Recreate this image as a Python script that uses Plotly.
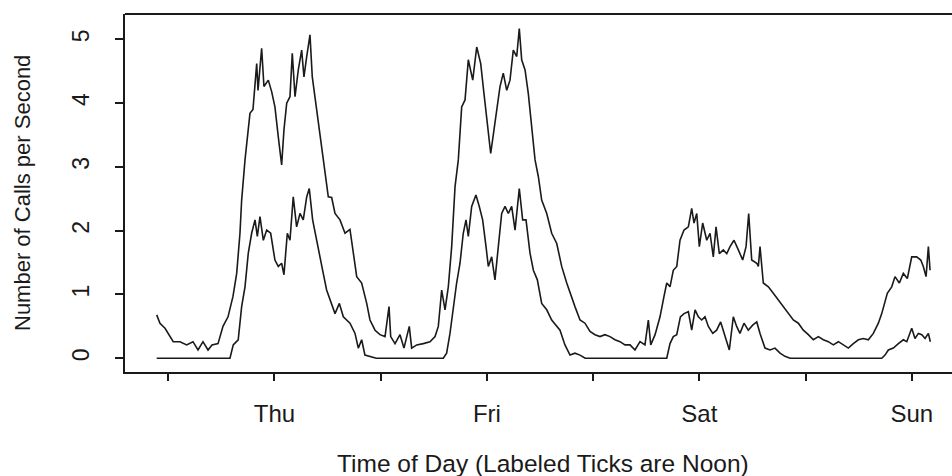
import plotly.graph_objects as go

# Hours since Thursday 00:00 (labeled ticks are noon)
upper_hours = [-1.31, -0.94, -0.37, 0.19, 0.56, 1.32, 2.08, 2.79, 3.36, 3.92, 4.49, 4.94, 5.62, 6.18, 6.75,
               7.31, 7.73, 8.10, 8.29, 8.67, 9.23, 9.57, 9.99, 10.14, 10.55, 10.81, 11.30, 11.68, 12.05, 12.43,
               12.81, 13.07, 13.38, 13.75, 14.01, 14.32, 14.69, 15.07, 15.33, 15.64, 16.01, 16.27, 16.58, 16.95,
               17.33, 17.71, 18.08, 18.46, 18.84, 19.40, 19.97, 20.53, 21.10, 21.29, 21.85, 22.42, 22.79, 23.36,
               23.92, 24.49, 24.94, 25.13, 25.62, 26.18, 26.63, 27.23, 27.50, 28.07, 28.81, 29.57, 30.14, 30.51,
               30.89, 31.27, 31.64, 32.02, 32.40, 32.77, 33.15, 33.53, 33.90, 34.40, 34.85, 35.30, 35.67, 36.05,
               36.43, 36.80, 37.18, 37.48, 37.85, 38.24, 38.61, 38.98, 39.37, 39.66, 39.93, 40.31, 40.68, 41.06,
               41.44, 41.81, 42.19, 42.76, 43.32, 43.89, 44.45, 45.02, 45.39, 45.95, 46.52, 47.08, 47.65, 48.21,
               48.78, 49.34, 49.91, 50.47, 51.04, 51.60, 52.17, 52.73, 53.30, 53.86, 54.24, 54.51, 55.00, 55.56,
               56.01, 56.32, 56.69, 57.06, 57.45, 57.82, 58.27, 58.76, 59.14, 59.40, 59.71, 60.00, 60.38, 60.84,
               61.21, 61.58, 61.89, 62.26, 62.71, 63.10, 63.47, 63.92, 64.41, 64.90, 65.28, 65.58, 65.92, 66.49,
               66.67, 66.86, 67.23, 67.80, 68.36, 68.93, 69.49, 70.06, 70.62, 71.19, 71.75, 72.32, 72.88, 73.45,
               74.01, 74.58, 75.14, 75.71, 76.27, 76.84, 77.40, 77.97, 78.53, 79.10, 79.66, 80.23, 80.61, 80.98,
               81.24, 81.74, 82.11, 82.60, 83.05, 83.50, 84.00, 84.56, 85.02, 85.31, 85.62, 85.88, 86.07]
upper_calls = [0.68, 0.55, 0.47, 0.34, 0.26, 0.26, 0.21, 0.26, 0.13, 0.26, 0.13, 0.21, 0.23, 0.50, 0.65,
               0.97, 1.33, 1.96, 2.48, 3.11, 3.84, 3.90, 4.62, 4.20, 4.86, 4.26, 4.36, 4.18, 3.94, 3.47,
               3.03, 3.58, 4.00, 4.10, 4.78, 4.10, 4.52, 4.83, 4.41, 4.73, 5.07, 4.41, 4.10, 3.74,
               3.32, 2.90, 2.53, 2.52, 2.27, 2.17, 1.96, 2.02, 1.40, 1.28, 1.18, 0.86, 0.60, 0.44,
               0.37, 0.34, 0.81, 0.34, 0.23, 0.37, 0.16, 0.50, 0.16, 0.21, 0.23, 0.26, 0.34, 0.50,
               1.07, 0.76, 1.12, 1.75, 2.69, 3.11, 3.94, 4.05, 4.68, 4.36, 4.88, 4.62, 4.15, 3.63,
               3.21, 3.58, 3.94, 4.26, 4.47, 4.20, 4.36, 4.83, 4.73, 5.17, 4.68, 4.52, 4.15, 3.63,
               3.11, 2.85, 2.48, 2.27, 1.96, 1.80, 1.44, 1.18, 1.02, 0.81, 0.60, 0.55, 0.42, 0.37,
               0.34, 0.37, 0.34, 0.29, 0.26, 0.21, 0.21, 0.13, 0.26, 0.21, 0.60, 0.21, 0.37, 0.65,
               0.97, 1.18, 1.12, 1.38, 1.44, 1.85, 2.01, 2.06, 2.35, 2.12, 2.27, 1.75, 2.12, 1.85,
               1.96, 1.59, 2.06, 1.64, 1.70, 1.64, 1.75, 1.85, 1.70, 1.54, 1.75, 2.27, 1.54, 1.49,
               1.44, 1.75, 1.18, 1.12, 1.02, 0.91, 0.81, 0.70, 0.60, 0.55, 0.44, 0.37, 0.29, 0.34,
               0.29, 0.26, 0.21, 0.26, 0.21, 0.16, 0.23, 0.29, 0.31, 0.29, 0.39, 0.55, 0.70, 0.91,
               1.02, 1.12, 1.28, 1.18, 1.33, 1.25, 1.59, 1.59, 1.54, 1.44, 1.28, 1.75, 1.38]

lower_hours = [-1.31, 6.97, 7.34, 7.90, 8.29, 8.67, 9.04, 9.42, 9.80, 10.06, 10.36, 10.74, 11.12, 11.57, 12.05,
               12.43, 12.81, 13.07, 13.45, 13.75, 14.12, 14.50, 14.88, 15.25, 15.64, 15.93, 16.31, 16.76, 17.14,
               17.51, 17.89, 18.27, 18.84, 19.33, 19.78, 20.53, 21.10, 21.47, 21.85, 22.22, 22.79, 23.50, 31.07,
               31.45, 31.83, 32.20, 32.58, 32.96, 33.33, 33.64, 33.90, 34.28, 34.76, 35.14, 35.52, 35.90, 36.16,
               36.54, 36.91, 37.29, 37.67, 38.05, 38.42, 38.80, 39.18, 39.66, 40.04, 40.42, 40.87, 41.25, 41.70,
               42.19, 42.76, 43.32, 43.89, 44.26, 44.82, 45.39, 45.95, 46.52, 47.10, 56.32, 56.69, 57.06, 57.45,
               57.86, 58.27, 58.76, 59.14, 59.52, 59.89, 60.27, 60.64, 61.02, 61.52, 61.96, 62.41, 62.90, 63.39,
               63.84, 64.22, 64.59, 65.05, 65.53, 66.03, 66.49, 66.86, 67.42, 67.99, 68.55, 69.12, 69.68, 70.25,
               80.61, 80.98, 81.36, 81.92, 82.49, 83.05, 83.44, 84.00, 84.37, 84.75, 85.14, 85.51, 85.88, 86.10]
lower_calls = [0.00, 0.00, 0.21, 0.29, 0.81, 1.12, 1.65, 1.96, 2.17, 1.91, 2.22, 1.85, 2.01, 1.96, 1.54,
               1.44, 1.49, 1.31, 1.96, 1.85, 2.53, 2.06, 2.27, 2.17, 2.53, 2.66, 2.17, 1.85, 1.54,
               1.33, 1.07, 0.91, 0.70, 0.86, 0.65, 0.55, 0.39, 0.16, 0.29, 0.05, 0.03, 0.00, 0.00,
               0.08, 0.39, 0.81, 1.18, 1.49, 1.96, 2.17, 1.91, 2.38, 2.56, 2.38, 2.17, 1.75, 1.44,
               1.59, 1.23, 1.75, 2.27, 2.38, 2.27, 2.38, 2.01, 2.66, 2.17, 2.17, 1.65, 1.38, 1.23,
               0.86, 0.76, 0.60, 0.50, 0.44, 0.21, 0.05, 0.08, 0.05, 0.00, 0.00, 0.23, 0.34, 0.37,
               0.65, 0.70, 0.73, 0.44, 0.76, 0.65, 0.60, 0.65, 0.50, 0.39, 0.44, 0.57, 0.34, 0.13,
               0.65, 0.50, 0.39, 0.55, 0.44, 0.52, 0.57, 0.39, 0.16, 0.13, 0.16, 0.08, 0.03, 0.00,
               0.00, 0.05, 0.13, 0.16, 0.23, 0.29, 0.26, 0.47, 0.31, 0.39, 0.37, 0.31, 0.39, 0.26]

tick_hours = [0, 12, 24, 36, 48, 60, 72, 84]
tick_labels = ["", "Thu", "", "Fri", "", "Sat", "", "Sun"]
y_ticks = [0, 1, 2, 3, 4, 5]

FONT = "Liberation Sans, Arial, Helvetica, sans-serif"
INK = "#1a1a1a"

fig = go.Figure()
for hx, vy in [(upper_hours, upper_calls), (lower_hours, lower_calls)]:
    fig.add_trace(go.Scatter(x=hx, y=vy, mode="lines",
                             line=dict(color=INK, width=1.6), showlegend=False,
                             hoverinfo="skip"))

fig.update_layout(
    width=952, height=476,
    margin=dict(l=125, r=0, t=14, b=104),
    paper_bgcolor="white", plot_bgcolor="white",
    font=dict(family=FONT, color=INK),
    xaxis=dict(range=[-4.89, 88.55], tickvals=tick_hours, ticktext=tick_labels,
               ticks="outside", ticklen=7, tickwidth=1.5, tickcolor=INK,
               showgrid=False, zeroline=False, showline=True, linewidth=2, linecolor=INK,
               tickfont=dict(size=24, color=INK), ticklabelstandoff=12),
    yaxis=dict(range=[-0.215, 5.397], tickvals=y_ticks,
               ticks="outside", ticklen=8, tickwidth=1.5, tickcolor=INK,
               showgrid=False, zeroline=False, showline=True, linewidth=2, linecolor=INK,
               tickangle=-90, tickfont=dict(size=23, color=INK), ticklabelstandoff=17),
    shapes=[dict(type="line", xref="paper", yref="paper", x0=0, x1=1, y0=1, y1=1,
                 line=dict(color=INK, width=2))],
    annotations=[
        dict(text="Time of Day (Labeled Ticks are Noon)", xref="paper", yref="paper",
             x=(543 - 125) / 827, y=(372 - 463) / 358, xanchor="center", yanchor="middle",
             showarrow=False, font=dict(size=24.5, color=INK)),
        dict(text="Number of Calls per Second", xref="paper", yref="paper",
             x=(22 - 125) / 827, y=0.5, xanchor="center", yanchor="middle", textangle=-90,
             showarrow=False, font=dict(size=22, color=INK)),
    ],
)

fig.write_html("out.html")
